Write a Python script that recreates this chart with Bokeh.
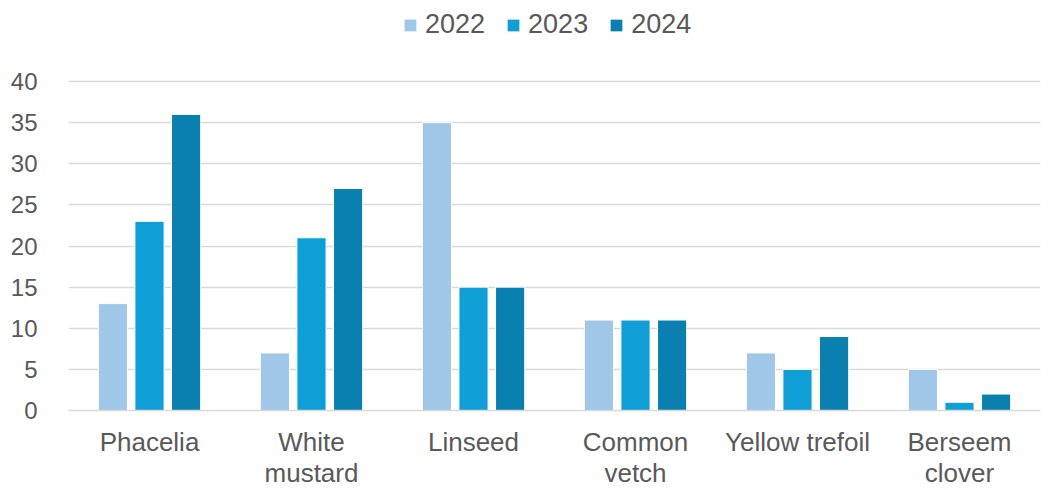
from bokeh.plotting import figure
from bokeh.models import FactorRange, Range1d, ColumnDataSource, Legend, LegendItem, FixedTicker
from bokeh.transform import dodge
from bokeh.embed import file_html
from bokeh.resources import INLINE

categories = ["Phacelia", "White\nmustard", "Linseed", "Common\nvetch", "Yellow trefoil", "Berseem\nclover"]
years = ["2022", "2023", "2024"]
v2022 = [13, 7, 35, 11, 7, 5]
v2023 = [23, 21, 15, 11, 5, 1]
v2024 = [36, 27, 15, 11, 9, 2]
y_ticks = [0, 5, 10, 15, 20, 25, 30, 35, 40]

colors = ["#A0C6E8", "#0F9ED5", "#0A80B0"]
FONT = "Liberation Sans"
TXT = "#595959"

src = ColumnDataSource(dict(cat=categories, y2022=v2022, y2023=v2023, y2024=v2024))

# frame spans the full top so that the legend can sit inside it above the 40 line
p = figure(frame_width=972, frame_height=410, x_range=FactorRange(*categories), y_range=Range1d(0, 49.85),
           output_backend="svg", toolbar_location=None,
           min_border_left=68, min_border_right=8, min_border_top=0, min_border_bottom=72)
p.outline_line_color = None

renderers = []
for i, (yr, col) in enumerate(zip(years, colors)):
    r = p.vbar(x=dodge("cat", (i - 1) * 0.226, range=p.x_range), top="y" + yr, width=0.18,
               source=src, fill_color=col, line_color="white", line_width=1)
    renderers.append(r)

legend = Legend(items=[LegendItem(label=yr, renderers=[r]) for yr, r in zip(years, renderers)],
                orientation="horizontal", location=(334, 370),
                label_text_font=FONT, label_text_font_size="27px", label_text_color=TXT,
                glyph_width=16, glyph_height=16, spacing=20, label_standoff=7,
                padding=0, margin=0,
                border_line_color=None, background_fill_alpha=0)
p.add_layout(legend)

p.xgrid.grid_line_color = None
p.ygrid.grid_line_color = "#D9D9D9"
p.ygrid.grid_line_width = 1.5
p.yaxis.ticker = FixedTicker(ticks=y_ticks)
p.yaxis.axis_line_color = None
p.yaxis.major_tick_line_color = None
p.yaxis.minor_tick_line_color = None
p.yaxis.major_label_text_font = FONT
p.yaxis.major_label_text_font_size = "24px"
p.yaxis.major_label_text_color = TXT
p.yaxis.major_label_standoff = 25

p.xaxis.axis_line_color = "#D9D9D9"
p.xaxis.axis_line_width = 1.5
p.xaxis.major_tick_line_color = None
p.xaxis.minor_tick_line_color = None
p.xaxis.major_label_text_font = FONT
p.xaxis.major_label_text_font_size = "26px"
p.xaxis.major_label_text_color = TXT
p.xaxis.major_label_text_line_height = 1.06
p.xaxis.major_label_standoff = 10

open("out.html", "w").write(file_html(p, INLINE))
